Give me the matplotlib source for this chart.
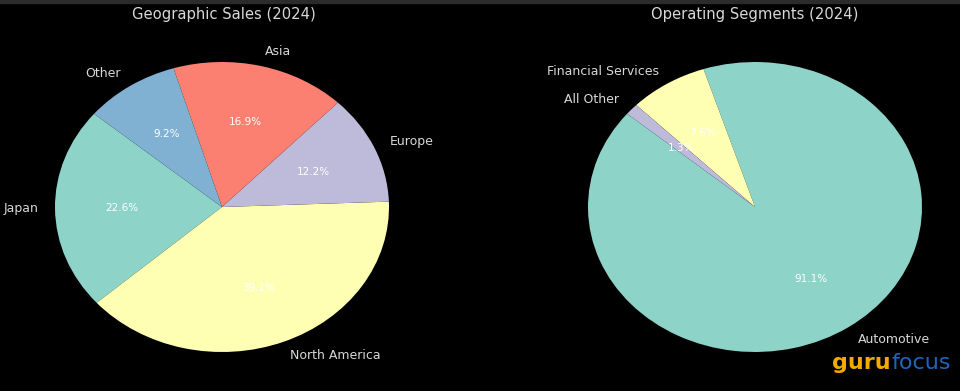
import matplotlib.pyplot as plt
from matplotlib.patches import Rectangle

# Данные
geoLabels = ['Japan', 'North America', 'Europe', 'Asia', 'Other']
geoShares = [22.6, 39.1, 12.2, 16.9, 9.2]

segLabels = ['Automotive', 'Financial Services', 'All Other']
segShares = [91.1, 7.6, 1.3]

colors = ['#8dd3c7', '#ffffb3', '#bebada', '#fb8072', '#80b1d3']


def drawPie(ax, values, labels, title, fig, titleX):
    ax.set_facecolor('black')
    wedges, texts, autotexts = ax.pie(
        values, labels=labels, colors=colors[:len(values)],
        autopct='%1.1f%%', startangle=140, labeldistance=1.1,
        pctdistance=0.6, textprops={'fontsize': 9, 'color': '#d8d8d8'})
    for t in autotexts:
        t.set_color('white')
        t.set_fontsize(7.5)
    ax.set_aspect('auto')
    ax.set_xlim(-1.25, 1.25)
    ax.set_ylim(-1.25, 1.25)
    fig.text(titleX, 1 - 15 / 391, title, color='#d8d8d8', fontsize=10.6,
             ha='center', va='center')


fig = plt.figure(figsize=(9.6, 3.91), dpi=100, facecolor='black')
fig.patches.append(Rectangle((0, 1 - 3 / 391), 1, 3 / 391, transform=fig.transFigure,
                             color='#2b2b2b', zorder=0))

W, H = 960, 391
axW, axH = 417.5, 362.5
ax1 = fig.add_axes([(222 - axW / 2) / W, (184 - axH / 2) / H, axW / W, axH / H])
ax2 = fig.add_axes([(755 - axW / 2) / W, (184 - axH / 2) / H, axW / W, axH / H])

drawPie(ax1, geoShares, geoLabels, 'Geographic Sales (2024)', fig, 224 / W)
drawPie(ax2, segShares, segLabels, 'Operating Segments (2024)', fig, 755 / W)

# водяной знак
guru = fig.text(832 / W, 1 - 363 / 391, 'guru', color='#f2a900', fontsize=16,
                ha='left', va='center', fontweight='bold')
renderer = fig.canvas.get_renderer()
bb = guru.get_window_extent(renderer)
fig.text((bb.x1 + 1) / W, 1 - 363 / 391, 'focus', color='#1f66b8', fontsize=16,
         ha='left', va='center')

fig.savefig('out.png', dpi=100, facecolor='black')
